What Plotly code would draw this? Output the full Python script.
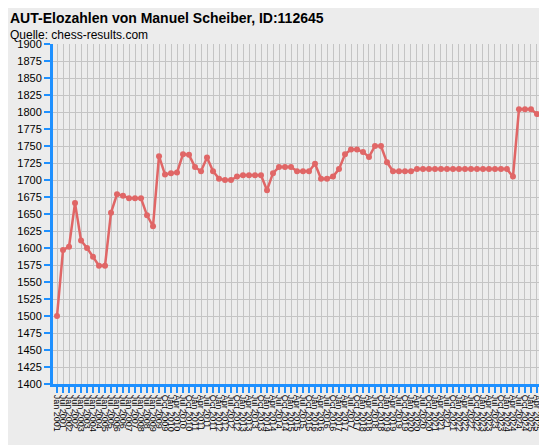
import plotly.graph_objects as go

elo = [1500, 1597, 1602, 1666, 1611, 1600, 1587, 1574, 1574, 1652,
       1679, 1677, 1673, 1673, 1673, 1648, 1632, 1735, 1708, 1710,
       1711, 1738, 1737, 1719, 1713, 1733, 1713, 1702, 1700, 1700,
       1705, 1707, 1707, 1707, 1707, 1685, 1710, 1719, 1719, 1719,
       1713, 1713, 1713, 1724, 1702, 1702, 1705, 1716, 1738, 1745,
       1745, 1741, 1734, 1750, 1750, 1726, 1713, 1713, 1713, 1713,
       1716, 1716, 1716, 1716, 1716, 1716, 1716, 1716, 1716, 1716,
       1716, 1716, 1716, 1716, 1716, 1716, 1705, 1804, 1804, 1804,
       1797, 1797]

half_years = [f"{m} {y}" for y in range(2001, 2010) for m in ("Jan", "Jul")]
quarters = [f"{m} {y}" for y in range(2009, 2026) for m in ("Jan", "Apr", "Jul", "Oct")]
quarters = quarters[3:67]
labels = half_years + quarters

yticks = list(range(1400, 1901, 25))

fig = go.Figure(go.Scatter(
    x=list(range(len(elo))), y=elo, mode="lines+markers",
    line=dict(color="#e06666", width=2.5),
    marker=dict(color="#e06666", size=6),
    hoverinfo="x+y", cliponaxis=False,
))

fig.update_layout(
    width=547, height=445,
    margin=dict(l=45, r=5, t=36, b=69),
    paper_bgcolor="#ececec", plot_bgcolor="#ececec",
    font=dict(family="Arial, Liberation Sans", size=11, color="#000"),
    showlegend=False,
    xaxis=dict(
        range=[-0.67, len(elo) - 1 + 1.17], automargin=False,
        tickvals=list(range(len(labels))), ticktext=labels, tickangle=90,
        tickfont=dict(size=9),
        showgrid=True, gridcolor="#c4c4c4", gridwidth=1,
        showline=True, linecolor="#1e90ff", linewidth=3,
        ticks="outside", tickcolor="#1e90ff", ticklen=6, tickwidth=2,
        zeroline=False,
    ),
    yaxis=dict(
        range=[1400, 1900], tickvals=yticks, automargin=False,
        showgrid=True, gridcolor="#c4c4c4", gridwidth=1,
        showline=True, linecolor="#1e90ff", linewidth=3,
        ticks="outside", tickcolor="#1e90ff", ticklen=6, tickwidth=2,
        zeroline=False,
    ),
    annotations=[
        dict(text="<b>AUT-Elozahlen von Manuel Scheiber, ID:112645</b>",
             x=-0.02 - 35 / 497, y=1 + 36 / 340, xref="paper", yref="paper",
             xanchor="left", yanchor="top", showarrow=False, font=dict(size=14)),
        dict(text="Quelle: chess-results.com",
             x=-0.02 - 35 / 497, y=1 + 9 / 340, xref="paper", yref="paper",
             xanchor="left", yanchor="middle", showarrow=False, font=dict(size=12)),
    ],
)

fig.write_html("out.html")
